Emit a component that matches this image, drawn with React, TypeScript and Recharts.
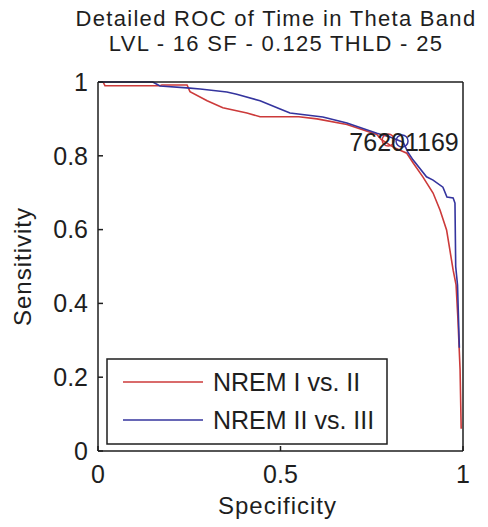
import React from "react";
import { LineChart, Line, XAxis, YAxis, ReferenceDot } from "recharts";

const FONT = "'Liberation Sans', Arial, sans-serif";
const INK = "#1e1e1e";

const TITLE = ["Detailed ROC of Time in Theta Band", "LVL - 16 SF - 0.125 THLD - 25"];
const X_TICKS = [0, 0.5, 1];
const Y_TICKS = [0, 0.2, 0.4, 0.6, 0.8, 1];

// NREM I vs. II
const redSpec = [0.014, 0.019, 0.17, 0.175, 0.244, 0.252, 0.299, 0.342, 0.408, 0.444, 0.55, 0.6, 0.682, 0.764, 0.775, 0.8, 0.814, 0.846, 0.864, 0.89, 0.918, 0.937, 0.955, 0.964, 0.973, 0.981, 0.986, 0.992, 0.995];
const redSens = [1, 0.99, 0.99, 0.992, 0.992, 0.974, 0.949, 0.93, 0.916, 0.906, 0.906, 0.9, 0.885, 0.858, 0.845, 0.829, 0.821, 0.807, 0.78, 0.743, 0.699, 0.653, 0.599, 0.545, 0.49, 0.45, 0.36, 0.22, 0.06];

// NREM II vs. III
const blueSpec = [0, 0.15, 0.17, 0.244, 0.28, 0.353, 0.38, 0.444, 0.499, 0.526, 0.616, 0.682, 0.764, 0.8, 0.836, 0.849, 0.863, 0.9, 0.918, 0.945, 0.956, 0.973, 0.978, 0.98, 0.985, 0.99];
const blueSens = [1, 1, 0.989, 0.984, 0.981, 0.973, 0.967, 0.949, 0.927, 0.916, 0.905, 0.889, 0.861, 0.851, 0.837, 0.81, 0.789, 0.743, 0.734, 0.715, 0.688, 0.686, 0.672, 0.5, 0.45, 0.28];

const SERIES = [
  { name: "NREM I vs. II", color: "#cc3a3a", spec: redSpec, sens: redSens },
  { name: "NREM II vs. III", color: "#34349e", spec: blueSpec, sens: blueSens },
];

// threshold markers and their labels
const markers = [
  { spec: 0.795, sens: 0.843, color: "#cc3a3a" },
  { spec: 0.833, sens: 0.84, color: "#34349e" },
];
const notes = [
  { spec: 0.841, sens: 0.837, text: "7620", anchor: "end" },
  { spec: 0.841, sens: 0.837, text: "1169", anchor: "start" },
];

const fmt = (v: number) => String(v);

export default function App() {
  const tickStyle = { fontSize: 25, fill: INK, fontFamily: FONT };
  return (
    <div style={{ position: "absolute", left: 0, top: 0, width: 488, height: 527, background: "#fff" }}>
      <LineChart width={488} height={527} margin={{ top: 82, right: 25, bottom: 0, left: 0 }}>
        <XAxis
          type="number"
          dataKey="spec"
          domain={[0, 1]}
          ticks={X_TICKS}
          tickFormatter={fmt}
          height={76}
          tickSize={-5}
          tickMargin={19}
          stroke={INK}
          strokeWidth={1.5}
          tick={tickStyle}
          label={{
            content: ({ viewBox }: any) => (
              <text x={viewBox.x + viewBox.width / 2 - 3} y={viewBox.y + 63} textAnchor="middle"
                fontSize={24} fill={INK} fontFamily={FONT} style={{ letterSpacing: 1 }}>Specificity</text>
            ),
          }}
        />
        <XAxis xAxisId="top" orientation="top" mirror type="number" dataKey="spec" domain={[0, 1]}
          ticks={X_TICKS} tickFormatter={() => ""} tickSize={5} stroke={INK} strokeWidth={1.5} />
        <YAxis
          type="number"
          domain={[0, 1]}
          ticks={Y_TICKS}
          tickFormatter={fmt}
          width={98}
          tickSize={-5}
          tickMargin={15}
          stroke={INK}
          strokeWidth={1.5}
          tick={tickStyle}
          label={{
            content: ({ viewBox }: any) => {
              const x = viewBox.x + 31;
              const y = viewBox.y + viewBox.height / 2;
              return (
                <text x={x} y={y} transform={`rotate(-90, ${x}, ${y})`} textAnchor="middle"
                  fontSize={24} fill={INK} fontFamily={FONT} style={{ letterSpacing: 1 }}>Sensitivity</text>
              );
            },
          }}
        />
        <YAxis yAxisId="right" orientation="right" mirror type="number" domain={[0, 1]}
          ticks={Y_TICKS} tickFormatter={() => ""} tickSize={5} stroke={INK} strokeWidth={1.5} />
        {SERIES.map((s) => (
          <Line
            key={s.name}
            name={s.name}
            data={s.spec.map((v, i) => ({ spec: v, sens: s.sens[i] }))}
            dataKey="sens"
            type="linear"
            stroke={s.color}
            strokeWidth={1.6}
            dot={false}
            isAnimationActive={false}
          />
        ))}
        {markers.map((m, i) => (
          <ReferenceDot key={i} x={m.spec} y={m.sens} r={6} fill="none" stroke={m.color} strokeWidth={1.5} />
        ))}
        {notes.map((n, i) => (
          <ReferenceDot key={"n" + i} x={n.spec} y={n.sens} r={0} fill="none" stroke="none"
            label={{
              content: ({ viewBox }: any) => (
                <text x={viewBox.x + viewBox.width / 2} y={viewBox.y + viewBox.height / 2} dy="0.36em"
                  textAnchor={n.anchor} fontSize={25} fill={INK} fontFamily={FONT}>{n.text}</text>
              ),
            }}
          />
        ))}
      </LineChart>
      <svg width={488} height={527} style={{ position: "absolute", left: 0, top: 0, pointerEvents: "none" }}>
        {TITLE.map((t, i) => (
          <text key={t} x={276} y={26 + i * 25} textAnchor="middle" fontSize={22} fill={INK}
            fontFamily={FONT} style={{ letterSpacing: 1.3 }}>{t}</text>
        ))}
        <rect x={107} y={359} width={280} height={85} fill="#fff" stroke={INK} strokeWidth={1.5} />
        {SERIES.map((s, i) => (
          <g key={s.name}>
            <line x1={123} x2={203} y1={382 + i * 38} y2={382 + i * 38} stroke={s.color} strokeWidth={1.6} />
            <text x={213} y={391 + i * 38} fontSize={25} fill={INK} fontFamily={FONT}>{s.name}</text>
          </g>
        ))}
      </svg>
    </div>
  );
}
